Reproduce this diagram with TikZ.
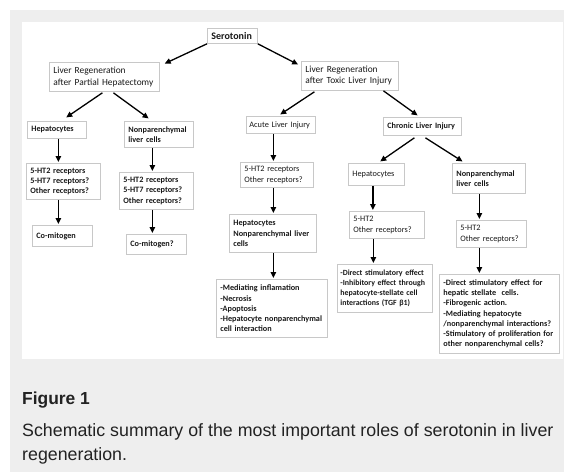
\documentclass[tikz,border=0pt]{standalone}
\usepackage{fontspec}
\setmainfont{Carlito}
\newfontfamily\capfont{Liberation Sans}
\usetikzlibrary{arrows.meta}
\definecolor{panel-gray}{RGB}{238,238,238}
\definecolor{box-line}{RGB}{200,200,200}
\definecolor{box-text}{RGB}{25,25,25}
\definecolor{cap-text}{RGB}{34,34,34}
\hyphenpenalty=10000
\exhyphenpenalty=10000

\begin{document}
\begin{tikzpicture}[x=1pt, y=-1pt,
    box/.style={draw=box-line, line width=0.8pt, anchor=north west,
        inner xsep=4pt, inner ysep=1pt, align=left, text=box-text},
    big/.style={font=\fontsize{10}{12}\selectfont\bfseries},
    hdr/.style={font=\fontsize{9.4}{11.3}\selectfont},
    lite/.style={font=\fontsize{8.3}{10.2}\selectfont},
    heavy/.style={font=\fontsize{8.2}{10.2}\selectfont\bfseries},
    arr/.style={-{Triangle[length=6pt,width=5.5pt]}, line width=1.3pt, shorten >=1pt}
]

    % Page and panel
    \fill[white] (0,0) rectangle (564,472);
    \fill[panel-gray] (10,10) rectangle (564,472);
    \fill[white] (21.5,22) rectangle (563,359);
    \useasboundingbox (0,0) rectangle (564,472);

    % Level 1: serotonin
    \node[box, big, minimum width=50pt, minimum height=15pt, text width=42pt]
        (ser) at (207,28) {Serotonin};

    % Level 2: two settings of regeneration
    \node[box, hdr, minimum width=110pt, minimum height=29pt, text width=102pt]
        (lrph) at (49,62) {Liver Regeneration\\after Partial Hepatectomy};
    \node[box, hdr, minimum width=97pt, minimum height=29pt, text width=89pt]
        (lrtli) at (301,61) {Liver Regeneration\\after Toxic Liver Injury};

    % Level 3: cells and kinds of injury
    \node[box, heavy, minimum width=59pt, minimum height=17pt, text width=51pt]
        (hepA) at (27,121) {Hepatocytes};
    \node[box, heavy, minimum width=69pt, minimum height=26pt, text width=61pt]
        (npA) at (124,121) {Nonparenchymal\\liver cells};
    \node[box, lite, inner xsep=3pt, minimum width=69pt, minimum height=17pt, text width=63pt]
        (acute) at (246,116) {Acute Liver Injury};
    \node[box, heavy, minimum width=78pt, minimum height=18pt, text width=70pt]
        (chronic) at (383,117) {Chronic Liver Injury};

    % Level 4: receptors, chronic cells
    \node[box, heavy, minimum width=74pt, minimum height=36pt, text width=66pt]
        (htA) at (26,163) {5-HT2 receptors\\5-HT7 receptors?\\Other receptors?};
    \node[box, heavy, minimum width=74pt, minimum height=37pt, text width=66pt]
        (htB) at (119,172) {5-HT2 receptors\\5-HT7 receptors?\\Other receptors?};
    \node[box, lite, minimum width=73pt, minimum height=25pt, text width=65pt]
        (htC) at (240,162) {5-HT2 receptors\\Other receptors?};
    \node[box, lite, minimum width=56pt, minimum height=22pt, text width=48pt]
        (hepD) at (348,163) {Hepatocytes};
    \node[box, heavy, minimum width=73pt, minimum height=30pt, text width=65pt]
        (npD) at (452,163) {Nonparenchymal\\liver cells};
    \node[box, lite, minimum width=75pt, minimum height=27pt, text width=67pt]
        (htD) at (349,211) {5-HT2\\Other receptors?};
    \node[box, lite, minimum width=70pt, minimum height=27pt, text width=62pt]
        (htE) at (456,220) {5-HT2\\Other receptors?};

    % Level 5: effects
    \node[box, heavy, minimum width=60pt, minimum height=21pt, text width=52pt]
        (comA) at (32,225) {Co-mitogen};
    \node[box, heavy, minimum width=60pt, minimum height=20pt, text width=52pt]
        (comB) at (126,234) {Co-mitogen?};
    \node[box, heavy, minimum width=87pt, minimum height=38pt, text width=79pt]
        (cellC) at (229,214) {Hepatocytes\\Nonparenchymal liver\\cells};
    \node[box, heavy, minimum width=111pt, minimum height=58pt, text width=103pt]
        (effC) at (216,279) {-Mediating inflamation\\-Necrosis\\-Apoptosis\\-Hepatocyte nonparenchymal\\cell interaction};
    \node[box, heavy, inner xsep=3pt, font=\fontsize{7.9}{10.2}\selectfont\bfseries,
        minimum width=95pt, minimum height=48pt, text width=89pt]
        (effD) at (337,264) {-Direct stimulatory effect\\-Inhibitory effect through\\hepatocyte-stellate cell\\interactions (TGF β1)};
    \node[box, heavy, minimum width=120pt, minimum height=79pt, text width=112pt]
        (effE) at (439,274) {-Direct stimulatory effect for\\hepatic stellate\ \ cells.\\-Fibrogenic action.\\-Mediating hepatocyte\\/nonparenchymal interactions?\\-Stimulatory of proliferation for\\other nonparenchymal cells?};

    % Diagonal arrows
    \draw[arr] (ser.south west) -- ([shift={(4,2)}]lrph.north east);
    \draw[arr] (ser.south east) -- ([shift={(-2,4)}]lrtli.north west);
    \draw[arr] ([shift={(-2,1)}]lrph.south) -- ([shift={(8.5,-3)}]hepA.north);
    \draw[arr] ([shift={(9,1)}]lrph.south) -- ([shift={(-9.5,-2)}]npA.north);
    \draw[arr] ([shift={(-35.5,1)}]lrtli.south) -- ([shift={(-1.5,-1)}]acute.north);
    \draw[arr] ([shift={(33.5,0)}]lrtli.south) -- ([shift={(-4,-1)}]chronic.north);
    \draw[arr] ([shift={(-8,2)}]chronic.south) -- ([shift={(3,-1)}]hepD.north);
    \draw[arr] ([shift={(3,2)}]chronic.south) -- ([shift={(-25.5,-1)}]npD.north);

    % Vertical arrows
    \foreach \a/\b/\dx in {hepA/htA/1.5, npA/htB/-6.5, acute/htC/-7.5,
        htA/comA/-5, htB/comB/-4, htC/cellC/-3.5, cellC/effC/0.5,
        hepD/htD/-3.5, npD/htE/-9.5, htD/effD/-13.5, htE/effE/-12} {
        \draw[arr] ([xshift=\dx pt]\a.south) -- ([xshift=\dx pt]\a.south |- \b.north);
    }

    % Caption
    \node[anchor=base west, inner sep=0, text=cap-text,
        font=\capfont\fontsize{17.4}{20}\selectfont\bfseries]
        (figlabel) at (22,404) {Figure 1};
    \node[anchor=base west, inner sep=0, text=cap-text,
        font=\capfont\fontsize{17.8}{24}\selectfont]
        (capA) at (22,436.5) {Schematic summary of the most important roles of serotonin in liver};
    \node[anchor=base west, inner sep=0, text=cap-text,
        font=\capfont\fontsize{17.8}{24}\selectfont]
        (capB) at (22,460.5) {regeneration.};

\end{tikzpicture}
\end{document}
